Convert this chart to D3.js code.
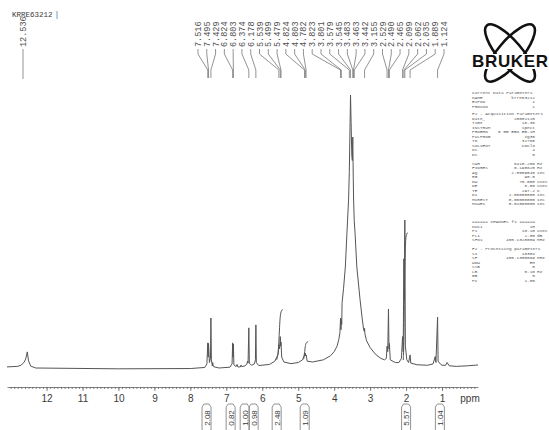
<!DOCTYPE html>
<html>
<head>
<meta charset="utf-8">
<script src="https://cdn.jsdelivr.net/npm/d3@7"></script>
<style>
  body { margin: 0; background: #fff; }
  svg { display: block; }
</style>
</head>
<body>
<svg id="grafico"></svg>
<script>
var titulo = 'KRRE63212';
var picoIsolado = '12.536';
var deslocamentos = ['7.516','7.495','7.429','6.824','6.803','6.374','6.178','5.539','5.499','5.479',
  '4.824','4.803','4.782','3.823','3.801','3.579','3.545','3.483','3.463','3.442','3.155',
  '2.529','2.490','2.465','2.099','2.062','2.035','1.889','1.124'];
var ticksPpm = [12, 11, 10, 9, 8, 7, 6, 5, 4, 3, 2, 1];

// [ppm, intensidade]
var espectro = [
  [13.10,0.4],[12.80,0.6],[12.70,1.1],[12.62,2.2],[12.58,3.3],[12.536,5.9],[12.50,2.6],[12.44,0.7],
  [12.30,0.0],[10.00,-0.3],[8.00,-0.2],[7.60,0.2],[7.54,1.5],[7.516,9.2],[7.505,4.0],[7.495,9.0],
  [7.47,2.0],[7.44,3.5],[7.429,18.3],[7.415,3.0],[7.39,0.8],[7.38,2.0],[7.36,0.5],[7.20,0.0],
  [6.90,0.3],[6.84,1.5],[6.824,9.2],[6.814,4.0],[6.803,8.8],[6.79,1.2],[6.73,0.5],[6.70,1.3],
  [6.68,0.4],[6.61,0.4],[6.59,1.1],[6.57,0.5],[6.48,0.8],[6.43,1.4],[6.41,2.5],[6.395,1.8],
  [6.374,14.7],[6.36,1.8],[6.30,1.0],[6.22,1.5],[6.19,3.0],[6.178,15.8],[6.165,2.0],[6.10,0.9],
  [5.80,1.3],[5.65,2.5],[5.56,5.0],[5.539,8.5],[5.52,7.0],[5.499,11.5],[5.489,8.0],[5.479,9.5],
  [5.46,4.0],[5.40,2.2],[5.20,1.6],[5.00,2.0],[4.88,3.0],[4.835,4.5],[4.824,5.5],[4.812,4.6],
  [4.803,5.4],[4.792,4.4],[4.782,4.8],[4.75,2.5],[4.60,2.2],[4.30,3.0],[4.10,4.5],[4.00,6.0],
  [3.92,8.0],[3.87,10.5],[3.84,13.0],[3.823,18.3],[3.812,14.0],[3.801,17.8],[3.79,16.0],[3.78,24.0],
  [3.74,29.0],[3.69,37.0],[3.645,49.5],[3.60,61.5],[3.579,72.0],[3.56,88.0],[3.545,100.0],
  [3.53,90.0],[3.51,78.0],[3.495,76.0],[3.483,84.6],[3.47,70.0],[3.46,61.5],[3.442,54.0],
  [3.42,49.5],[3.37,37.0],[3.28,25.0],[3.22,18.0],[3.18,14.0],[3.165,13.5],[3.155,14.5],
  [3.145,12.5],[3.10,10.0],[3.00,7.5],[2.85,5.0],[2.70,3.5],[2.60,3.0],[2.55,3.5],[2.529,8.0],
  [2.51,6.0],[2.49,21.6],[2.475,7.0],[2.465,9.0],[2.44,3.0],[2.30,2.0],[2.20,2.0],[2.13,3.5],
  [2.099,11.5],[2.08,6.0],[2.062,40.0],[2.05,25.0],[2.035,54.2],[2.02,8.0],[1.98,3.0],[1.93,2.0],
  [1.889,4.8],[1.87,1.8],[1.70,1.2],[1.40,1.0],[1.25,1.5],[1.19,4.2],[1.17,2.0],[1.124,18.6],
  [1.11,2.5],[1.05,1.5],[1.00,1.0],[0.90,1.0],[0.86,2.0],[0.80,0.8],[0.60,0.6],[0.30,0.8],[0.00,1.1]
];

// curvas de integral visiveis
var curvasIntegrais = [
  [[5.60,3.0],[5.56,5.0],[5.54,9.0],[5.52,15.0],[5.50,19.5],[5.47,21.0],[5.43,21.5]],
  [[4.85,3.2],[4.83,4.5],[4.81,7.5],[4.79,9.0],[4.76,9.5],[4.72,9.7]],
  [[2.08,2.9],[2.06,8.0],[2.05,25.0],[2.03,42.0],[2.01,48.0],[1.98,49.3],[1.95,49.6]]
];
var integraisPpm = [7.55, 6.88, 6.49, 6.24, 5.60, 4.82, 2.00, 1.06];
var integraisValores = ['2.08', '0.82', '1.00', '0.98', '2.48', '1.09', '5.57', '1.04'];

// parametros Bruker
var parametrosAtuais = [['NAME','krre63212'],['EXPNO','1'],['PROCNO','1']];
var parametrosAquisicao = [['Date_','20081115'],['Time','16.36'],['INSTRUM','spect'],
  ['PROBHD','5 mm BBO BB-1H'],['PULPROG','zg30'],['TD','32768'],['SOLVENT','CDCl3'],['NS','4'],
  ['DS','0'],['',''],['SWH','6410.256','Hz'],['FIDRES','0.195625','Hz'],['AQ','2.5559540','sec'],
  ['RG','90.5'],['DW','78.000','usec'],['DE','6.50','usec'],['TE','297.2','K'],
  ['D1','1.50000000','sec'],['MCREST','0.00000000','sec'],['MCWEX','0.01500000','sec']];
var parametrosCanal = [['NUC1','1H'],['P1','10.10','usec'],['PL1','2.00','dB'],['SFO1','400.1328009','MHz']];
var parametrosProcessamento = [['SI','16384'],['SF','400.1300069','MHz'],['WDW','EM'],['SSB','0'],
  ['LB','0.10','Hz'],['GB','0'],['PC','1.00']];

var largura = 549, altura = 430;
var corLinha = '#555', corTexto = '#3a3a3a';

var svg = d3.select('#grafico').attr('width', largura).attr('height', altura);

var x = d3.scaleLinear().domain([13.1, 0]).range([7, 478]);
var y = d3.scaleLinear().domain([0, 100]).range([368, 95]);

// titulo
svg.append('text')
  .attr('x', 12).attr('y', 17)
  .style('font-family', 'Liberation Mono, monospace').style('font-size', '7.5px')
  .attr('fill', corTexto)
  .text(titulo);
svg.append('line').attr('x1', 57).attr('x2', 57).attr('y1', 11).attr('y2', 19)
  .attr('stroke', '#7a9cc6').attr('stroke-width', 1);

// espectro
var linha = d3.line().x(d => x(d[0])).y(d => y(d[1]));
svg.append('path')
  .datum(espectro)
  .attr('d', linha)
  .attr('fill', 'none')
  .attr('stroke', corLinha)
  .attr('stroke-width', 1);

var linhaIntegral = d3.line().x(d => x(d[0])).y(d => y(d[1])).curve(d3.curveBasis);
svg.selectAll('.integral')
  .data(curvasIntegrais)
  .enter()
    .append('path')
    .classed('integral', true)
    .attr('d', linhaIntegral)
    .attr('fill', 'none')
    .attr('stroke', corLinha)
    .attr('stroke-width', 1);

// eixo ppm
var eixoMenor = d3.axisBottom(x).tickValues(d3.range(1, 131).map(i => i / 10)).tickSize(2).tickFormat('').tickSizeOuter(0);
var eixoMaior = d3.axisBottom(x).tickValues(ticksPpm).tickSize(4).tickPadding(4).tickSizeOuter(0).tickFormat(d3.format('d'));
var gEixo = svg.append('g').attr('transform', 'translate(0,387)');
gEixo.call(eixoMenor);
gEixo.append('g').call(eixoMaior).select('.domain').remove();
gEixo.selectAll('path, line').attr('stroke', '#666').attr('stroke-width', 0.8);
gEixo.selectAll('text')
  .style('font-family', 'Liberation Sans, Arial, sans-serif').style('font-size', '10px')
  .attr('fill', corTexto);
svg.append('text')
  .attr('x', 470).attr('y', 402).attr('text-anchor', 'middle')
  .style('font-family', 'Liberation Sans, Arial, sans-serif').style('font-size', '10px')
  .attr('fill', corTexto)
  .text('ppm');

// rotulos dos picos
var xRotulo = d3.scalePoint().domain(deslocamentos).range([198, 444]);
var estiloMono = 'font-family: Liberation Mono, monospace; font-size: 8.5px;';

svg.selectAll('.conector')
  .data(deslocamentos)
  .enter()
    .append('path')
    .classed('conector', true)
    .attr('d', d => 'M' + xRotulo(d) + ',49V54L' + x(+d) + ',70V78')
    .attr('fill', 'none')
    .attr('stroke', '#777')
    .attr('stroke-width', 0.8);

svg.selectAll('.rotulo')
  .data(deslocamentos)
  .enter()
    .append('text')
    .classed('rotulo', true)
    .attr('transform', d => 'translate(' + (xRotulo(d) + 3) + ',47) rotate(-90)')
    .attr('style', estiloMono)
    .attr('fill', '#505050')
    .text(d => d);

svg.append('text')
  .attr('transform', 'translate(26,47) rotate(-90)')
  .attr('style', estiloMono)
  .attr('fill', '#505050')
  .text(picoIsolado);
svg.append('line').attr('x1', 23).attr('x2', 23).attr('y1', 49).attr('y2', 79)
  .attr('stroke', '#777').attr('stroke-width', 0.8);

// integrais sob o eixo
var gInt = svg.selectAll('.rotuloIntegral')
  .data(integraisPpm)
  .enter()
    .append('g')
    .classed('rotuloIntegral', true)
    .attr('transform', d => 'translate(' + x(d) + ',0)');
gInt.append('path')
  .attr('d', 'M-4.5,432V407L-2.5,404H2.5L4.5,407V432')
  .attr('fill', 'none')
  .attr('stroke', '#777')
  .attr('stroke-width', 0.8);
gInt.append('text')
  .attr('transform', 'translate(3,418) rotate(-90)')
  .attr('text-anchor', 'middle')
  .style('font-family', 'Liberation Sans, Arial, sans-serif').style('font-size', '8px')
  .attr('fill', corTexto)
  .text((d, i) => integraisValores[i]);

// logotipo
var logo = svg.append('g').attr('transform', 'translate(510,53)');
[50, -50].forEach(function (a) {
  logo.append('ellipse')
    .attr('rx', 36).attr('ry', 12)
    .attr('transform', 'rotate(' + a + ')')
    .attr('fill', 'none').attr('stroke', '#111').attr('stroke-width', 2.6);
});
logo.append('rect').attr('x', -39).attr('y', 1).attr('width', 78).attr('height', 15).attr('fill', '#fff');
logo.append('text')
  .attr('x', 0).attr('y', 14).attr('text-anchor', 'middle')
  .attr('textLength', 76)
  .style('font-family', 'Liberation Sans, Arial, sans-serif').style('font-size', '17px').style('font-weight', 'bold')
  .attr('fill', '#111')
  .text('BRUKER');

// bloco de parametros
var alturaLinha = 4.5;
function bloco(cabecalho, linhas, y0) {
  var g = svg.append('g').attr('style', 'font-family: Liberation Mono, monospace; font-size: 4.4px;').attr('fill', '#555');
  g.append('text').attr('x', 472).attr('y', y0).text(cabecalho);
  linhas.forEach(function (l, i) {
    var yl = y0 + (i + 1) * alturaLinha;
    if (l[0]) g.append('text').attr('x', 472).attr('y', yl).text(l[0]);
    if (l[1]) g.append('text').attr('x', 535).attr('y', yl).attr('text-anchor', 'end').text(l[1]);
    if (l[2]) g.append('text').attr('x', 537).attr('y', yl).text(l[2]);
  });
}
bloco('Current Data Parameters', parametrosAtuais, 94);
bloco('F2 - Acquisition Parameters', parametrosAquisicao, 115);
bloco('====== CHANNEL f1 ======', parametrosCanal, 223);
bloco('F2 - Processing parameters', parametrosProcessamento, 250);
</script>
</body>
</html>
